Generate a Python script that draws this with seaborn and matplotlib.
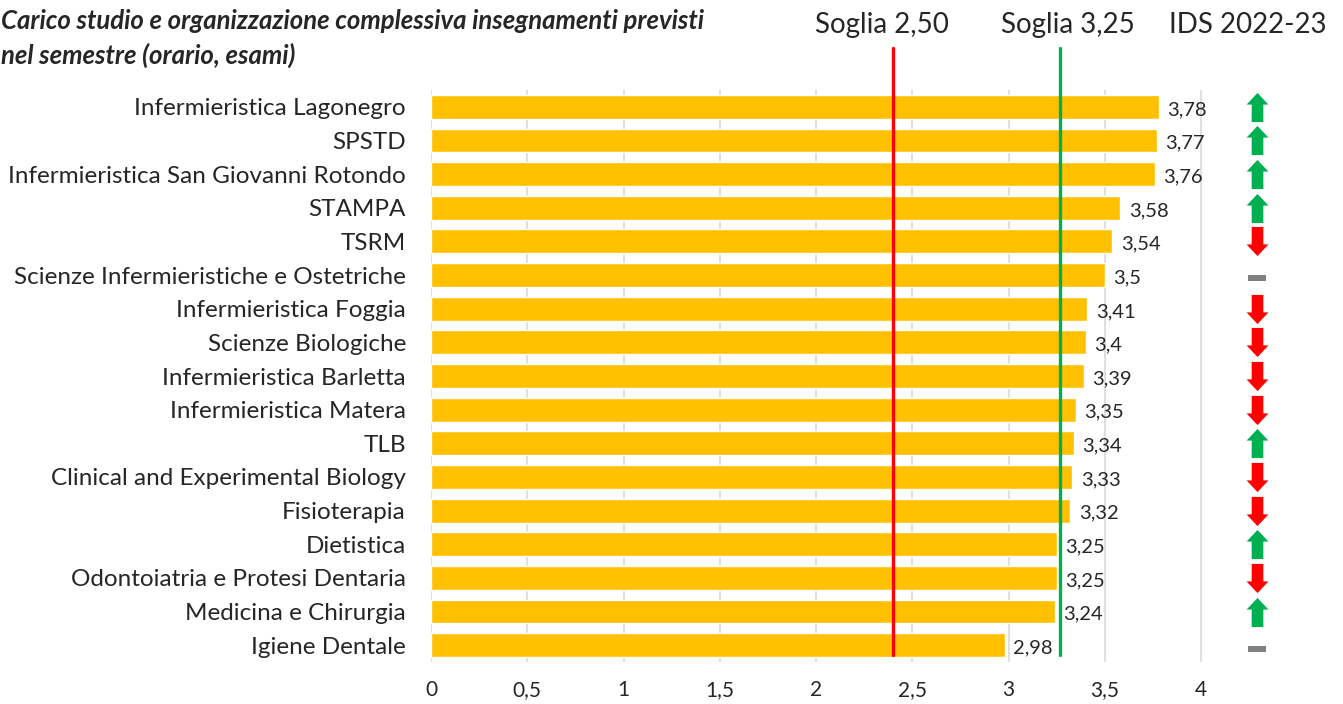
import numpy as np
import pandas as pd
import matplotlib.pyplot as plt
import seaborn as sns
from matplotlib.path import Path
from matplotlib.ticker import FixedLocator, FuncFormatter

corsi = ["Infermieristica Lagonegro", "SPSTD", "Infermieristica San Giovanni Rotondo",
         "STAMPA", "TSRM", "Scienze Infermieristiche e Ostetriche", "Infermieristica Foggia",
         "Scienze Biologiche", "Infermieristica Barletta", "Infermieristica Matera", "TLB",
         "Clinical and Experimental Biology", "Fisioterapia", "Dietistica",
         "Odontoiatria e Protesi Dentaria", "Medicina e Chirurgia", "Igiene Dentale"]
punteggi = [3.78, 3.77, 3.76, 3.58, 3.54, 3.50, 3.41, 3.40, 3.39, 3.35, 3.34,
            3.33, 3.32, 3.25, 3.25, 3.24, 2.98]
# trend rispetto all'anno precedente: 1 su, -1 giu, 0 stabile
trend = [1, 1, 1, 1, -1, 0, -1, -1, -1, -1, 1, -1, -1, 1, -1, 1, 0]
ticks = [0, 0.5, 1, 1.5, 2, 2.5, 3, 3.5, 4]
soglia_rossa = 2.40
soglia_verde = 3.265


def virgola(v, pos=None):
    return ("%.2f" % v).rstrip("0").rstrip(".").replace(".", ",")


df = pd.DataFrame({"corso": corsi, "punteggio": punteggi})

sns.set_style("white")
plt.rcParams['font.family'] = ['Lato', 'DejaVu Sans']

fig = plt.figure(figsize=(13.43, 7.04), dpi=100)
ax = fig.add_axes([431 / 1343, 1 - 662 / 704, (4.05 * 192.5) / 1343, (662 - 90) / 704])

sns.barplot(data=df, x="punteggio", y="corso", color="#FFC000", saturation=1,
            width=0.71, ax=ax, zorder=2)

ax.set_xlim(0, 4.05)
ax.set_ylim(16.5, -0.5)
ax.set_xlabel("")
ax.set_ylabel("")
for x in ticks:
    ax.axvline(x, color="#D9D9D9", lw=1.2, zorder=0)
for s in ax.spines.values():
    s.set_visible(False)

# etichette valori
for i, v in enumerate(punteggi):
    ax.text(v + 0.045, i + 0.08, virgola(v), va="center", ha="left", fontsize=14.5)

# soglie
ax.plot([soglia_rossa, soglia_rossa], [-1.75, 16.3], color="#FF0000", lw=2.4,
        clip_on=False, zorder=3)
ax.plot([soglia_verde, soglia_verde], [-1.75, 16.3], color="#00B050", lw=2.4,
        clip_on=False, zorder=3)

# frecce trend
up = Path([(-0.4, -1), (0.4, -1), (0.4, 0.2), (0.75, 0.2), (0, 1),
           (-0.75, 0.2), (-0.4, 0.2), (-0.4, -1)],
          [Path.MOVETO] + [Path.LINETO] * 6 + [Path.CLOSEPOLY])
down = Path([(x, -y) for x, y in up.vertices], up.codes)
dash = Path([(-1, -0.3), (1, -0.3), (1, 0.3), (-1, 0.3), (-1, -0.3)],
            [Path.MOVETO] + [Path.LINETO] * 3 + [Path.CLOSEPOLY])
x_freccia = (1257 - 431) / 192.5
for i, t in enumerate(trend):
    if t == 1:
        ax.plot(x_freccia, i, marker=up, ms=21, color="#00B050", clip_on=False, mew=0)
    elif t == -1:
        ax.plot(x_freccia, i, marker=down, ms=21, color="#FF0000", clip_on=False, mew=0)
    else:
        ax.plot(x_freccia, i + 0.1, marker=dash, ms=13, color="#808080", clip_on=False, mew=0)

ax.xaxis.set_major_locator(FixedLocator(ticks))
ax.xaxis.set_major_formatter(FuncFormatter(virgola))
ax.tick_params(axis="x", length=0, pad=13, labelsize=15)
ax.tick_params(axis="y", length=0, pad=18, labelsize=17.5)

# intestazioni
fig.text(882 / 1343, 1 - 25 / 704, "Soglia 2,50", ha="center", va="center", fontsize=20)
fig.text(1068 / 1343, 1 - 25 / 704, "Soglia 3,25", ha="center", va="center", fontsize=20)
fig.text(1248 / 1343, 1 - 25 / 704, "IDS 2022-23", ha="center", va="center", fontsize=20)

fig.text(0.001, 1 - 21 / 704, "Carico studio e organizzazione complessiva insegnamenti previsti",
         ha="left", va="center", fontsize=18.5, fontweight="bold", fontstyle="italic")
fig.text(0.001, 1 - 55 / 704, "nel semestre (orario, esami)",
         ha="left", va="center", fontsize=18.5, fontweight="bold", fontstyle="italic")

fig.savefig("out.png", dpi=100)
